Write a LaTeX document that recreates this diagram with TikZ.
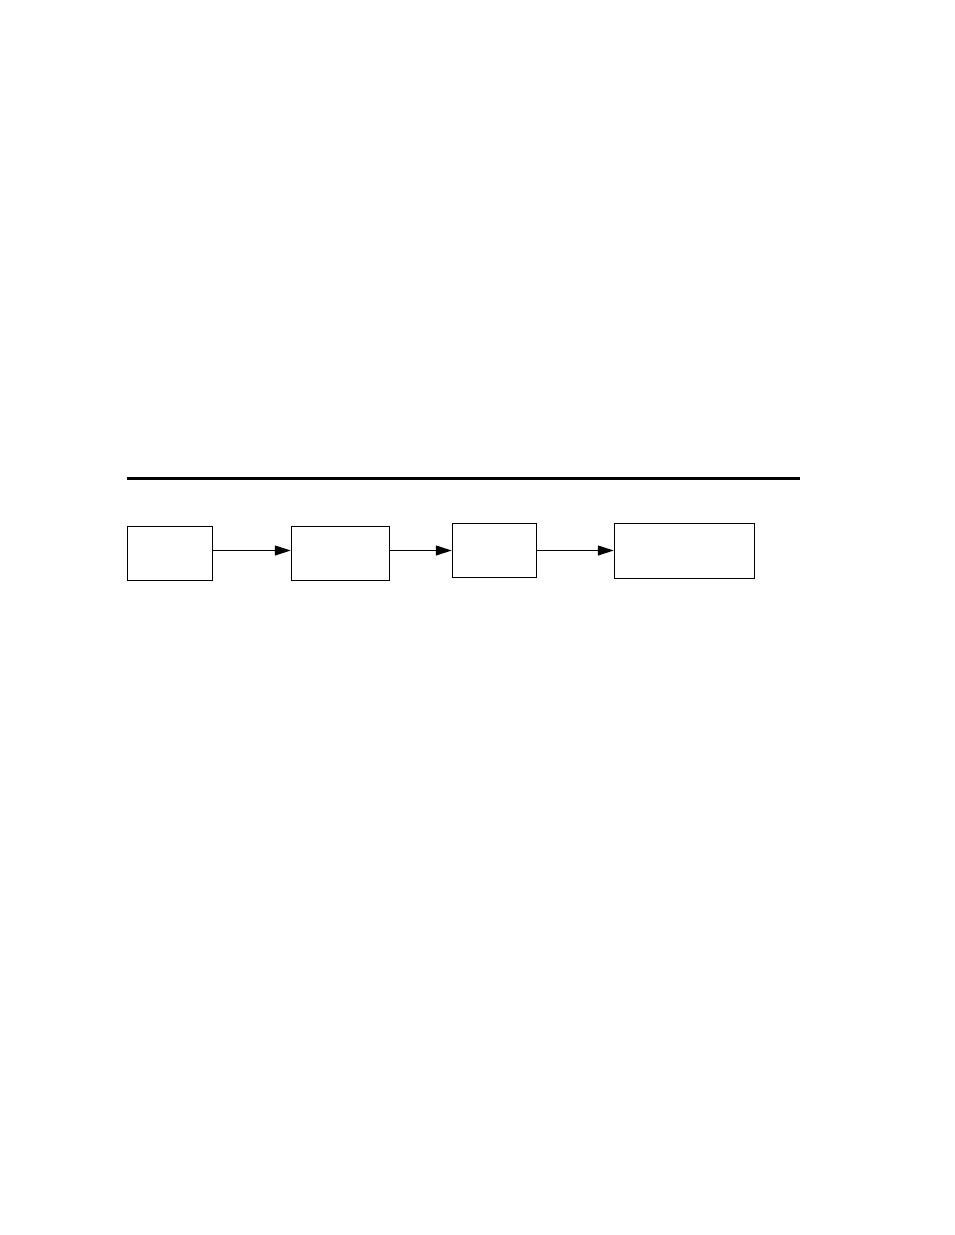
\documentclass[tikz,border=0pt]{standalone}
\usetikzlibrary{arrows.meta}
\begin{document}
\begin{tikzpicture}[x=1pt,y=-1pt,
  box/.style={draw,line width=1.1pt,inner sep=0pt,rectangle},
  flow/.style={line width=1.1pt,-{Triangle[length=16pt,width=10pt]}},
  rule/.style={line width=3pt}]
\useasboundingbox (0,0) rectangle (954,1235);
\coordinate (rl) at (127,478.3);
\coordinate (rr) at (799.5,478.3);
\draw[rule] (rl) -- (rr);
\node[box,minimum width=85pt,minimum height=54pt] (b1) at (169.8,553.5) {};
\node[box,minimum width=98pt,minimum height=54pt] (b2) at (340.3,553.5) {};
\node[box,minimum width=84pt,minimum height=53.6pt] (b3) at (494.3,550.5) {};
\node[box,minimum width=140pt,minimum height=55pt] (b4) at (684.3,550.8) {};
\draw[flow] (b1.east |- b3.west) -- (b2.west |- b3.west);
\draw[flow] (b2.east |- b3.west) -- (b3.west);
\draw[flow] (b3.east) -- (b4.west |- b3.east);
\end{tikzpicture}
\end{document}
